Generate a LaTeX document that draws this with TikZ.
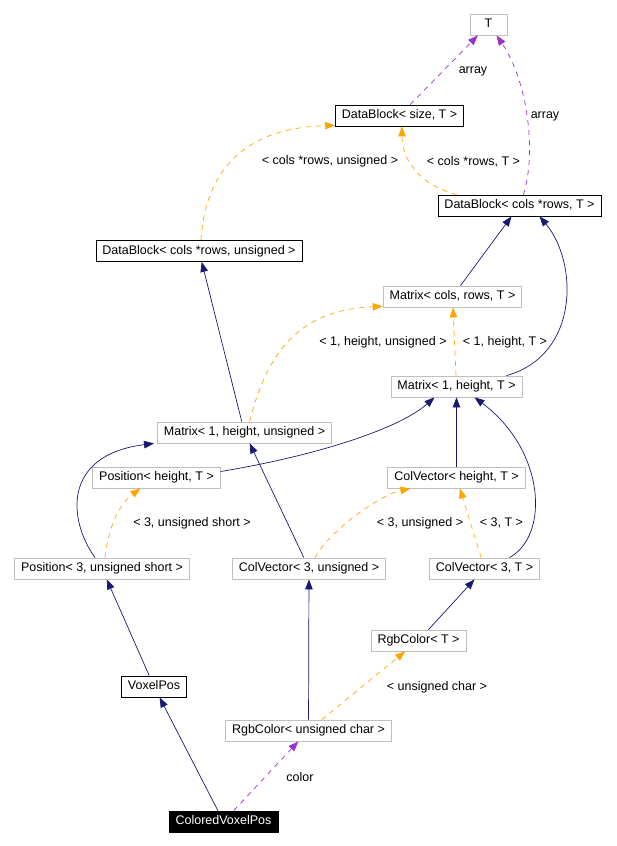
\documentclass[tikz,border=0pt]{standalone}
\usepackage{fontspec}
\setmainfont{Liberation Sans}
\usetikzlibrary{arrows.meta}
\definecolor{edgeblue}{RGB}{25,25,112}
\definecolor{edgeorange}{RGB}{255,165,0}
\definecolor{edgepurple}{RGB}{153,50,204}
\definecolor{boxgray}{RGB}{191,191,191}
\begin{document}
\begin{tikzpicture}[x=1pt,y=-1pt,
		cls/.style={draw=boxgray,fill=white,line width=0.8pt,inner xsep=6.5pt,inner ysep=0pt,minimum height=21pt,text height=9pt,text depth=2.5pt,font=\fontsize{12.5}{15}\selectfont},
		doc/.style={cls,draw=black},
		cur/.style={cls,draw=black,fill=black,text=white},
		lbl/.style={inner sep=0pt,text=black,font=\fontsize{12.5}{15}\selectfont},
		inh/.style={->,>={Triangle[length=10pt,width=7.5pt]},line width=0.7pt,edgeblue},
		tpl/.style={inh,edgeorange,dash pattern=on 5pt off 5pt},
		usg/.style={inh,edgepurple,dash pattern=on 5pt off 5pt}]
		\useasboundingbox (0,0) rectangle (617,846);
		\node[cls,minimum width=37pt] (T) at (488.5,24.5) {T};
		\node[doc] (dbsize) at (399.5,115.5) {DataBlock< size, T >};
		\node[doc] (dbT) at (519.5,205.5) {DataBlock< cols *rows, T >};
		\node[doc] (dbU) at (199,251) {DataBlock< cols *rows, unsigned >};
		\node[cls] (mcr) at (452.5,296.5) {Matrix< cols, rows, T >};
		\node[cls] (m1T) at (456.5,386.5) {Matrix< 1, height, T >};
		\node[cls] (m1U) at (244.5,432.5) {Matrix< 1, height, unsigned >};
		\node[cls] (posH) at (156.5,477.5) {Position< height, T >};
		\node[cls] (cvH) at (456.5,477.5) {ColVector< height, T >};
		\node[cls] (pos3) at (102,568.5) {Position< 3, unsigned short >};
		\node[cls] (cv3U) at (309,568.5) {ColVector< 3, unsigned >};
		\node[cls] (cv3T) at (484.5,568.5) {ColVector< 3, T >};
		\node[cls] (rgbT) at (418.5,640.5) {RgbColor< T >};
		\node[doc] (voxel) at (154,686.5) {VoxelPos};
		\node[cls] (rgbU) at (308.5,730.5) {RgbColor< unsigned char >};
		\node[cur] (cvp) at (223.5,821.5) {ColoredVoxelPos};

		\draw[usg] (dbsize) -- (T) node[lbl] at (473,71) {array};
		\draw[usg] ([xshift=4pt]dbT.north) .. controls (537,150) and (527,80) .. ([xshift=8pt]T.south) node[lbl] at (545,116) {array};
		\draw[tpl] ([xshift=2pt]dbU.north) .. controls (205,175) and (240,128) .. ([yshift=1pt]dbsize.south west) node[lbl] at (330,161.5) {< cols *rows, unsigned >};
		\draw[tpl] ([xshift=-63pt]dbT.north) .. controls (420,185) and (402,160) .. ([xshift=2.5pt]dbsize.south) node[lbl] at (473.5,161.5) {< cols *rows, T >};
		\draw[inh] (mcr) -- (dbT);
		\draw[inh] ([xshift=50pt]m1T.north) .. controls (580,355) and (578,262) .. ([xshift=20pt]dbT.south);
		\draw[inh] (m1U) -- (dbU);
		\draw[tpl] ([xshift=5pt]m1U.north) .. controls (268,350) and (300,310) .. ([yshift=1pt]mcr.south west) node[lbl] at (383,342) {< 1, height, unsigned >};
		\draw[tpl] (m1T) -- (mcr) node[lbl] at (505,342) {< 1, height, T >};
		\draw[inh] ([yshift=6pt]posH.east) .. controls (320,455) and (400,428) .. ([xshift=-22pt]m1T.south);
		\draw[inh] ([xshift=-7pt]pos3.north) .. controls (68,520) and (62,455) .. ([xshift=-3pt]m1U.south west);
		\draw[tpl] ([xshift=3pt]pos3.north) .. controls (108,530) and (118,505) .. ([xshift=-16pt]posH.south) node[lbl] at (192,523) {< 3, unsigned short >};
		\draw[inh] (cvH) -- (m1T);
		\draw[inh] (cv3U) -- (m1U);
		\draw[tpl] ([xshift=6pt]cv3U.north) .. controls (330,530) and (380,495) .. ([xshift=-46pt]cvH.south) node[lbl] at (420,523) {< 3, unsigned >};
		\draw[tpl] (cv3T) -- (cvH) node[lbl] at (501.5,523) {< 3, T >};
		\draw[inh] ([xshift=25pt]cv3T.north) .. controls (550,535) and (545,450) .. ([xshift=18pt]m1T.south);
		\draw[inh] (rgbT) -- (cv3T);
		\draw[inh] (voxel) -- (pos3);
		\draw[inh] (rgbU) -- (cv3U);
		\draw[tpl] (rgbU) -- (rgbT) node[lbl] at (437,687) {< unsigned char >};
		\draw[inh] (cvp) -- (voxel);
		\draw[usg] (cvp) -- (rgbU) node[lbl] at (300,777) {color};
\end{tikzpicture}
\end{document}
